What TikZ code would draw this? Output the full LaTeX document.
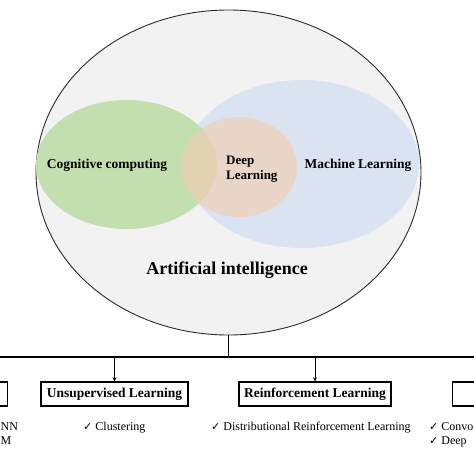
\documentclass[tikz,border=0pt]{standalone}
\usepackage{fontspec}
\setmainfont{Liberation Serif}
\newfontfamily\symfont{DejaVu Sans}
\usetikzlibrary{shapes.geometric,arrows.meta}
\definecolor{aibg}{HTML}{F2F2F2}
\definecolor{aiedge}{HTML}{2B2B2B}
\definecolor{ccgreen}{HTML}{C3DFB0}
\definecolor{mlblue}{HTML}{DAE3F1}
\definecolor{dlorange}{HTML}{F5CDB2}
\tikzset{
  blob/.style={ellipse, inner sep=0pt},
  lbl/.style={font=\fontsize{13.5}{15}\selectfont\bfseries, inner sep=0pt},
  catbox/.style={draw=black, line width=1.4pt, font=\fontsize{13.5}{15}\selectfont\bfseries,
    minimum height=24pt, inner xsep=5pt, inner ysep=0pt},
  item/.style={font=\fontsize{12}{14}\selectfont, inner sep=0pt, anchor=base west},
  bus/.style={line width=1.4pt},
  down/.style={line width=1pt, -{Stealth[length=4pt,width=4pt]}}
}
\newcommand{\ck}{{\symfont\fontsize{11}{13}\selectfont ✓}\ }
\begin{document}
\begin{tikzpicture}[x=1pt,y=-1pt]
\clip (0,0) rectangle (474,474);
\fill[white] (0,0) rectangle (474,474);
% big ellipse
\node[blob, draw=aiedge, line width=0.9pt, fill=aibg, minimum width=385pt, minimum height=325pt] (ai) at (228.5,172.5) {};
\node[blob, fill=mlblue, minimum width=234pt, minimum height=168pt] (ml) at (302,164) {};
\node[blob, fill=ccgreen, minimum width=181pt, minimum height=129pt] (cc) at (126.5,164.5) {};
\node[blob, fill=dlorange, fill opacity=0.62, minimum width=116pt, minimum height=100pt] (dl) at (239,167) {};
\node[lbl] (cct) at (107,165) {Cognitive computing};
\node[lbl, align=left, anchor=west, font=\fontsize{13}{15.5}\selectfont\bfseries] (dlt) at (226,169) {Deep\\Learning};
\node[lbl] (mlt) at (358,165) {Machine Learning};
\node[lbl, font=\fontsize{18}{20}\selectfont\bfseries] (ait) at (227,270) {Artificial intelligence};
% tree
\coordinate (bj) at (ai.south |- 0,357);
\coordinate (busL) at (-10,357);
\coordinate (busR) at (484,357);
\draw[line width=1.2pt] (ai.south) -- (bj);
\draw[bus] (busL) -- (busR);
\node[catbox, anchor=east, minimum width=140pt] (sup) at (8,394) {};
\node[catbox, minimum width=147pt] (uns) at (114.5,394) {Unsupervised Learning};
\node[catbox, minimum width=150pt] (rl) at (315,394) {Reinforcement Learning};
\node[catbox, anchor=west, minimum width=120pt] (dlb) at (452,394) {};
\coordinate (tu) at (uns.north |- bj);
\coordinate (tr) at (rl.north |- bj);
\draw[down] (tu) -- (uns.north);
\draw[down] (tr) -- (rl.north);
% items
\node[item] (s1) at (0.5,430) {NN};
\node[item, anchor=base east] (s2) at (11.5,444) {M};
\node[item] (u1) at (83,430) {\ck Clustering};
\node[item] (r1) at (211,430) {\ck Distributional Reinforcement Learning};
\node[item] (d1) at (429,430) {\ck Convo};
\node[item] (d2) at (429,444) {\ck Deep};
\end{tikzpicture}
\end{document}
